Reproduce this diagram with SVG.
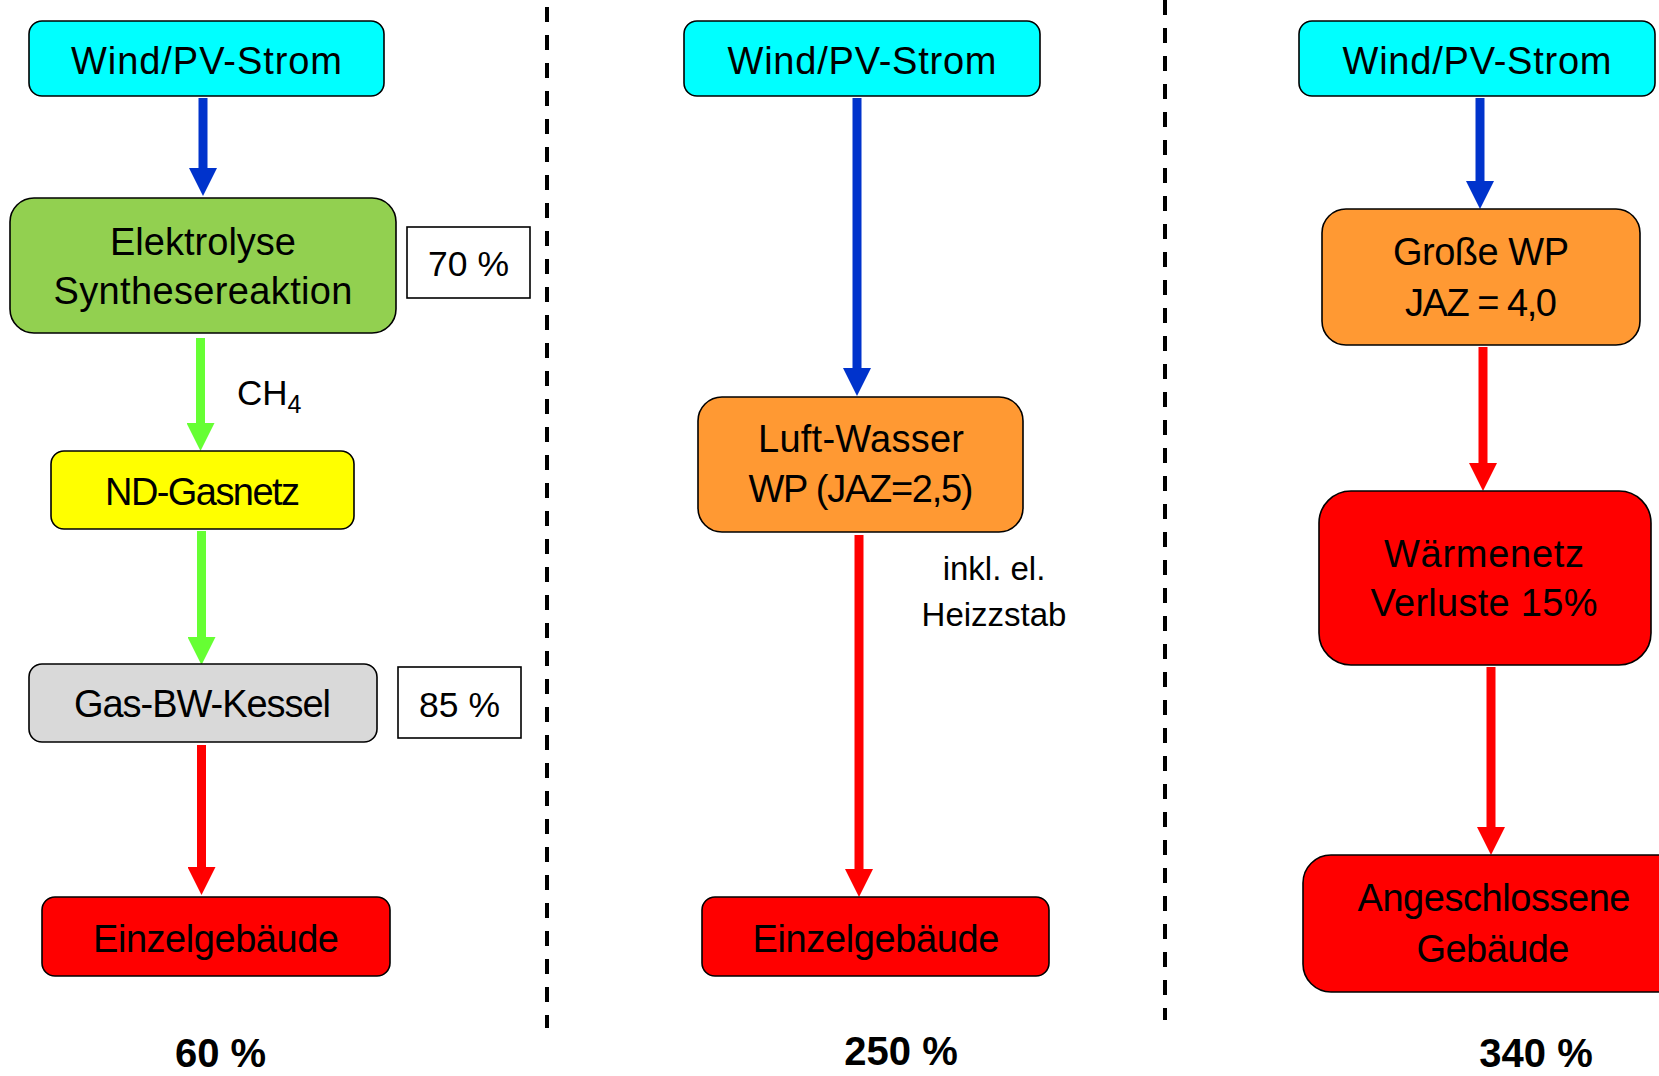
<svg xmlns="http://www.w3.org/2000/svg" width="1659" height="1076" viewBox="0 0 1659 1076">
<style>
  .box { stroke: #000; stroke-width: 1.6; }
  .pct { fill: #fff; stroke: #000; stroke-width: 1.6; }
  .lbl { font-family: "Liberation Sans", Arial, sans-serif; font-size: 38px; fill: #000; text-anchor: middle; }
  .note { font-family: "Liberation Sans", Arial, sans-serif; font-size: 33px; fill: #000; text-anchor: middle; }
  .res { font-family: "Liberation Sans", Arial, sans-serif; font-size: 40px; font-weight: bold; fill: #000; text-anchor: middle; }
  .shaft { stroke-width: 9; fill: none; }
  .blue { stroke: #0033CC; }
  .green { stroke: #66FF33; }
  .red { stroke: #FF0000; }
  .dash { stroke: #000; stroke-width: 4; stroke-dasharray: 15 13; fill: none; }
  .cyan { fill: #00FFFF; }
  .lgreen { fill: #92D050; }
  .yellow { fill: #FFFF00; }
  .gray { fill: #D9D9D9; }
  .redf { fill: #FF0000; }
  .orange { fill: #FF9933; }
</style>
<defs>
  <marker id="hb" markerUnits="userSpaceOnUse" markerWidth="28" markerHeight="28" refX="0" refY="14" orient="auto"><path d="M0,0 L28,14 L0,28 z" fill="#0033CC"/></marker>
  <marker id="hg" markerUnits="userSpaceOnUse" markerWidth="28" markerHeight="28" refX="0" refY="14" orient="auto"><path d="M0,0 L28,14 L0,28 z" fill="#66FF33"/></marker>
  <marker id="hr" markerUnits="userSpaceOnUse" markerWidth="28" markerHeight="28" refX="0" refY="14" orient="auto"><path d="M0,0 L28,14 L0,28 z" fill="#FF0000"/></marker>
</defs>
<rect x="0" y="0" width="1659" height="1076" fill="#fff"/>

<g id="separators">
  <line class="dash" x1="547" y1="7" x2="547" y2="1028"/>
  <line class="dash" x1="1165" y1="0" x2="1165" y2="1020"/>
</g>

<g id="connectors">
  <line class="shaft blue" x1="203" y1="98" x2="203" y2="168" marker-end="url(#hb)"/>
  <line class="shaft green" x1="200.5" y1="338" x2="200.5" y2="423" marker-end="url(#hg)"/>
  <line class="shaft green" x1="201.5" y1="531" x2="201.5" y2="637" marker-end="url(#hg)"/>
  <line class="shaft red" x1="201.5" y1="745" x2="201.5" y2="867" marker-end="url(#hr)"/>
  <line class="shaft blue" x1="857" y1="98" x2="857" y2="368" marker-end="url(#hb)"/>
  <line class="shaft red" x1="859" y1="535" x2="859" y2="869" marker-end="url(#hr)"/>
  <line class="shaft blue" x1="1480" y1="98" x2="1480" y2="181" marker-end="url(#hb)"/>
  <line class="shaft red" x1="1483" y1="347" x2="1483" y2="463" marker-end="url(#hr)"/>
  <line class="shaft red" x1="1491" y1="667" x2="1491" y2="827" marker-end="url(#hr)"/>
  <text class="lbl" x="237" y="405" style="text-anchor:start;font-size:35px">CH<tspan font-size="25" dy="8">4</tspan></text>
  <text class="note" x="994" y="580">inkl. el.</text>
  <text class="note" x="994" y="626">Heizzstab</text>
</g>

<g id="n-wind1">
  <rect class="box cyan" x="29" y="21" width="355" height="75" rx="13"/>
  <text class="lbl" x="206.5" y="74" textLength="271">Wind/PV-Strom</text>
</g>
<g id="n-elektrolyse">
  <rect class="box lgreen" x="10" y="198" width="386" height="135" rx="24"/>
  <text class="lbl" x="203" y="255" textLength="186">Elektrolyse</text>
  <text class="lbl" x="203" y="304" textLength="299">Synthesereaktion</text>
</g>
<g id="n-eff70">
  <rect class="pct" x="407" y="227" width="123" height="71"/>
  <text class="lbl" x="468.5" y="276" style="font-size:35.5px">70 %</text>
</g>
<g id="n-gasnetz">
  <rect class="box yellow" x="51" y="451" width="303" height="78" rx="13"/>
  <text class="lbl" x="202.5" y="505" textLength="195">ND-Gasnetz</text>
</g>
<g id="n-kessel">
  <rect class="box gray" x="29" y="664" width="348" height="78" rx="13"/>
  <text class="lbl" x="202.5" y="717" textLength="257">Gas-BW-Kessel</text>
</g>
<g id="n-eff85">
  <rect class="pct" x="398" y="667" width="123" height="71"/>
  <text class="lbl" x="459.5" y="717" style="font-size:35.5px">85 %</text>
</g>
<g id="n-einzel1">
  <rect class="box redf" x="42" y="897" width="348" height="79" rx="13"/>
  <text class="lbl" x="216" y="952" textLength="246">Einzelgebäude</text>
</g>
<g id="r-60">
  <text class="res" x="220.5" y="1067">60 %</text>
</g>

<g id="n-wind2">
  <rect class="box cyan" x="684" y="21" width="356" height="75" rx="13"/>
  <text class="lbl" x="862" y="74" textLength="269">Wind/PV-Strom</text>
</g>
<g id="n-luftwasser">
  <rect class="box orange" x="698" y="397" width="325" height="135" rx="24"/>
  <text class="lbl" x="861" y="452" textLength="206">Luft-Wasser</text>
  <text class="lbl" x="861" y="502" textLength="225">WP (JAZ=2,5)</text>
</g>
<g id="n-einzel2">
  <rect class="box redf" x="702" y="897" width="347" height="79" rx="13"/>
  <text class="lbl" x="876" y="952" textLength="247">Einzelgebäude</text>
</g>
<g id="r-250">
  <text class="res" x="901" y="1065">250 %</text>
</g>

<g id="n-wind3">
  <rect class="box cyan" x="1299" y="21" width="356" height="75" rx="13"/>
  <text class="lbl" x="1477" y="74" textLength="269">Wind/PV-Strom</text>
</g>
<g id="n-grossewp">
  <rect class="box orange" x="1322" y="209" width="318" height="136" rx="24"/>
  <text class="lbl" x="1481" y="265" textLength="176">Große WP</text>
  <text class="lbl" x="1481" y="316" textLength="152">JAZ = 4,0</text>
</g>
<g id="n-waermenetz">
  <rect class="box redf" x="1319" y="491" width="332" height="174" rx="32"/>
  <text class="lbl" x="1484" y="567" textLength="200">Wärmenetz</text>
  <text class="lbl" x="1484" y="616" textLength="227">Verluste 15%</text>
</g>
<g id="n-angeschlossen">
  <rect class="box redf" x="1303" y="855" width="390" height="137" rx="28"/>
  <text class="lbl" x="1494" y="911" textLength="273">Angeschlossene</text>
  <text class="lbl" x="1493" y="962" textLength="153">Gebäude</text>
</g>
<g id="r-340">
  <text class="res" x="1536" y="1067">340 %</text>
</g>
</svg>
